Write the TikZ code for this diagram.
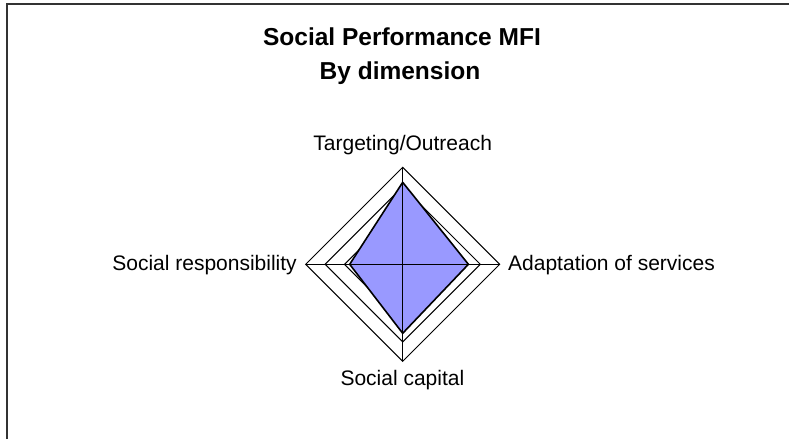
\documentclass[tikz,border=0pt]{standalone}
\usepackage{fontspec}
\setmainfont{Liberation Sans}
\definecolor{serieblue}{HTML}{9999FF}
\begin{document}
\begin{tikzpicture}[x=1pt,y=-1pt,
    every node/.style={inner sep=0pt},
    axislabel/.style={font=\fontsize{21}{24}\selectfont},
    titletext/.style={font=\fontsize{24.5}{28}\selectfont\bfseries},
    ring/.style={draw=black,line width=1pt}]
    \useasboundingbox (0,0) rectangle (789,439);
    \draw[line width=2pt,draw=black!80] (7,439) -- (7,4) -- (789,4);

    \node[titletext,anchor=base] (title1) at (402,45.7) {Social Performance MFI};
    \node[titletext,anchor=base] (title2) at (400,79) {By dimension};

    \begin{scope}[shift={(402.7,264.3)}]
        \coordinate (c) at (0,0);
        \coordinate (t) at (0,-97);
        \coordinate (a) at (97,0);
        \coordinate (s) at (0,97);
        \coordinate (r) at (-97,0);

        \foreach \k in {1,...,5}
            \draw[ring] (0,-19.4*\k) -- (19.4*\k,0) -- (0,19.4*\k) -- (-19.4*\k,0) -- cycle;

        \filldraw[fill=serieblue,draw=black,line width=1.6pt,line join=round]
            (0,-82) -- (65.7,0) -- (0,69) -- (-53,0) -- cycle;

        \draw[line width=1pt] (t) -- (s);
        \draw[line width=1pt] (r) -- (a);
    \end{scope}

    \node[axislabel,anchor=base] (target) at (402.7,150.7) {Targeting/Outreach};
    \node[axislabel,anchor=base east] (resp) at (297,270.7) {Social responsibility};
    \node[axislabel,anchor=base west] (adapt) at (508,270.7) {Adaptation of services};
    \node[axislabel,anchor=base] (capital) at (402.4,385.7) {Social capital};
\end{tikzpicture}
\end{document}
